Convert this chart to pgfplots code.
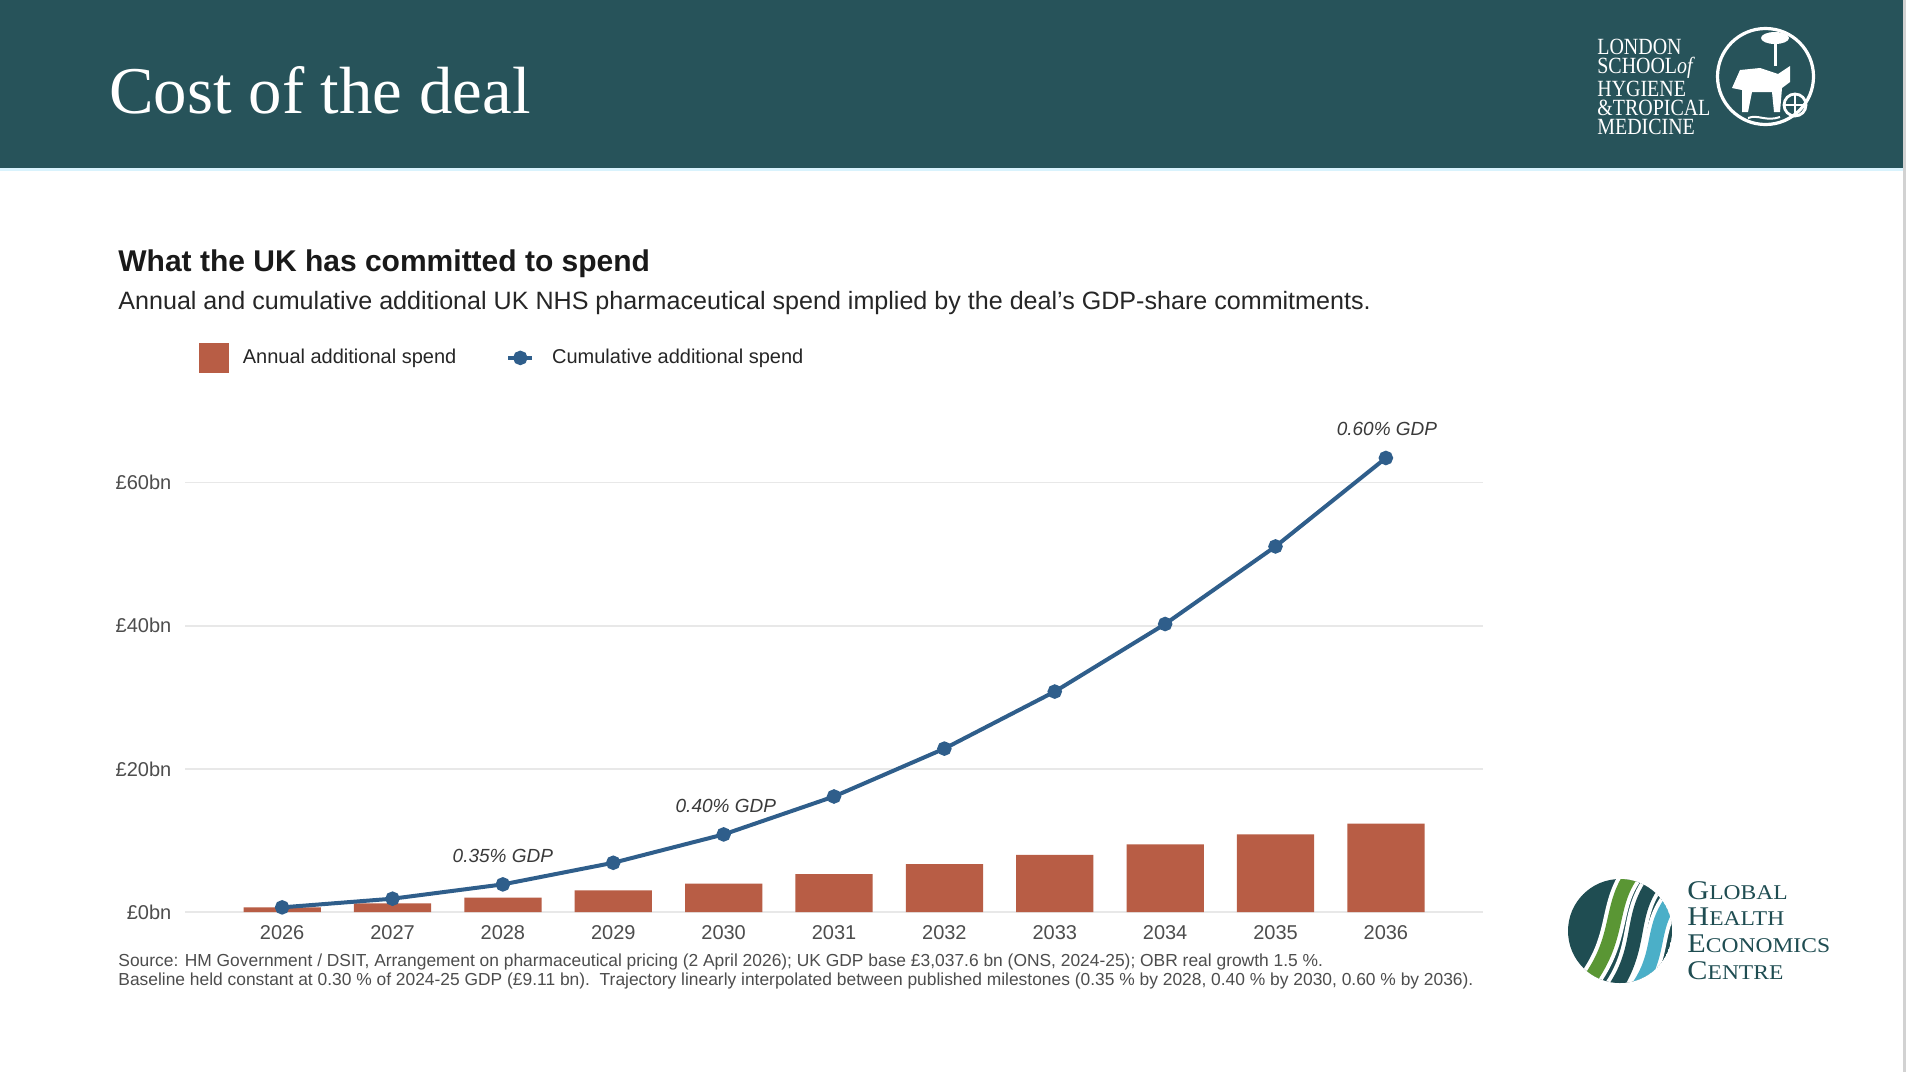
\documentclass[border=0pt]{standalone}
\usepackage{fontspec}
\setmainfont{Liberation Sans}
\newfontfamily\seriffont{Liberation Serif}
\usepackage{pgfplots}
\pgfplotsset{compat=1.18}
\definecolor{hdr}{HTML}{27535A}
\definecolor{barc}{HTML}{B85D45}
\definecolor{linec}{HTML}{2F5E8B}
\definecolor{gridc}{HTML}{E8E8E8}
\definecolor{tickc}{HTML}{4D4D4D}
\definecolor{annc}{HTML}{3A3A3A}
\definecolor{ghec}{HTML}{1F4D52}
\definecolor{ghgreen}{HTML}{5A9634}
\definecolor{ghblue}{HTML}{4BAFC8}
\begin{document}
\begin{tikzpicture}
\useasboundingbox (0,0) rectangle (953pt,-536pt);
\fill[white] (0,0) rectangle (953pt,-536pt);
\begin{scope}[x=0.5pt,y=-0.5pt]
  % header
  \fill[hdr] (0,0) rectangle (1903,168);
  \draw[cyan!15, line width=1.5] (0,169) -- (1903,169);
  \draw[gray!35, line width=1.5] (1904.5,0) -- (1904.5,1072);
  \node[anchor=base west, inner sep=0, text=white, font=\seriffont\fontsize{33.4}{40}\selectfont] at (109,113) {Cost of the deal};
  % LSHTM logo
  \node[anchor=north west, inner sep=0, text=white, xscale=0.86, align=left,
        font=\seriffont\fontsize{11.6}{9.6}\selectfont] at (1597,39)
        {LONDON\\SCHOOL{\itshape of}\\HYGIENE\\\&TROPICAL\\MEDICINE};
  \draw[white, line width=1.6] (1765.5,76.5) circle (48);
  \draw[white, line width=1.4] (1795,105) circle (11);
  \draw[white, line width=1] (1784,105) -- (1806,105) (1795,94) -- (1795,116);
  \fill[white] (1732,88) -- (1740,70) -- (1760,68) -- (1778,74) -- (1790,66) -- (1790,82) -- (1782,88) -- (1780,112) -- (1774,112) -- (1772,92) -- (1752,92) -- (1748,112) -- (1742,112) -- (1742,90) -- cycle;
  \draw[white, line width=1.5] (1775,66) -- (1775,38);
  \fill[white] (1775,38) ellipse (14 and 6);
  \draw[white, line width=1] (1748,118) .. controls (1758,114) and (1766,122) .. (1780,117);
  % chart titles
  \node[anchor=base west, inner sep=0, font=\bfseries\fontsize{15}{18}\selectfont, text=black!90] at (118,271) {What the UK has committed to spend};
  \node[anchor=base west, inner sep=0, font=\fontsize{12.55}{14}\selectfont, text=black!85] at (118,309) {Annual and cumulative additional UK NHS pharmaceutical spend implied by the deal's GDP-share commitments.};
  % source
  \node[anchor=base west, inner sep=0, font=\fontsize{8.7}{10}\selectfont, text=tickc] at (118,966) {Source: HM Government / DSIT, Arrangement on pharmaceutical pricing (2 April 2026); UK GDP base £3,037.6 bn (ONS, 2024-25); OBR real growth 1.5 \%.};
  \node[anchor=base west, inner sep=0, font=\fontsize{8.7}{10}\selectfont, text=tickc] at (118,985) {Baseline held constant at 0.30 \% of 2024-25 GDP (£9.11 bn).\ \ Trajectory linearly interpolated between published milestones (0.35 \% by 2028, 0.40 \% by 2030, 0.60 \% by 2036).};
  % GHEC logo
  \begin{scope}[shift={(1620,931)}]
    \clip (0,0) circle (52);
    \fill[ghec] (0,0) circle (52);
    \draw[white, line width=11pt] (16,-62) .. controls (-14,-26) and (4,6) .. (-36,56);
    \draw[ghgreen, line width=7pt] (16,-62) .. controls (-14,-26) and (4,6) .. (-36,56);
    \draw[white, line width=11pt] (38,-54) .. controls (6,-16) and (26,16) .. (-10,64);
    \draw[ghec, line width=7pt] (38,-54) .. controls (6,-16) and (26,16) .. (-10,64);
    \draw[white, line width=11pt] (58,-38) .. controls (26,-4) and (46,22) .. (12,64);
    \draw[ghblue, line width=7pt] (58,-38) .. controls (26,-4) and (46,22) .. (12,64);
  \end{scope}
  \begin{scope}[every node/.style={anchor=base west, inner sep=0, text=ghec, xscale=1.12, font=\seriffont\fontsize{13.5}{15}\selectfont}]
    \node at (1687,899) {G{\fontsize{10.5}{12}\selectfont LOBAL}};
    \node at (1687,925) {H{\fontsize{10.5}{12}\selectfont EALTH}};
    \node at (1687,952) {E{\fontsize{10.5}{12}\selectfont CONOMICS}};
    \node at (1687,979) {C{\fontsize{10.5}{12}\selectfont ENTRE}};
  \end{scope}
\end{scope}
\begin{axis}[
  at={(92.5pt,-456pt)}, anchor=south west,
  scale only axis, width=649pt, height=250.5pt,
  xmin=-0.88, xmax=10.88, ymin=0, ymax=70,
  axis line style={draw=none}, major tick length=0pt,
  xtick={0,1,2,3,4,5,6,7,8,9,10},
  xticklabels={2026,2027,2028,2029,2030,2031,2032,2033,2034,2035,2036},
  ytick={0,20,40,60}, yticklabels={£0bn,£20bn,£40bn,£60bn},
  ymajorgrids, grid style={gridc, line width=0.9pt},
  tick label style={font=\fontsize{10}{12}\selectfont, text=tickc},
  yticklabel style={xshift=-3.3pt},
  xticklabel style={yshift=-3pt},
  clip=false,
  legend columns=2,
  legend cell align=left,
  legend style={at={(0.0108,1.1060)}, anchor=west, draw=none, fill=none,
    inner sep=0pt, outer sep=0pt,
    font=\fontsize{10}{12}\selectfont, text=black!85,
    /tikz/every odd column/.append style={column sep=4.9pt},
    /tikz/every even column/.append style={column sep=23pt}},
]
\addplot[ybar, bar width=0.7, fill=barc, draw=none,
  legend image code/.code={\fill[barc] (0pt,-7.5pt) rectangle (15pt,7.5pt);}]
  coordinates {(0,0.65) (1,1.21) (2,2.00) (3,3.02) (4,3.96) (5,5.30) (6,6.69) (7,7.97) (8,9.44) (9,10.84) (10,12.36)};
\addlegendentry{Annual additional spend}
\addplot[color=linec, line width=2pt, mark=*, mark size=2.6pt, mark options={fill=linec, draw=linec},
  legend image code/.code={\draw[linec, line width=2pt] (0pt,0pt) -- (12pt,0pt); \fill[linec] (6pt,0pt) circle (2.6pt); \path (14pt,0pt);}]
  coordinates {(0,0.65) (1,1.86) (2,3.86) (3,6.88) (4,10.84) (5,16.14) (6,22.83) (7,30.80) (8,40.24) (9,51.08) (10,63.44)};
\addlegendentry{Cumulative additional spend}
\node[font=\itshape\fontsize{9.5}{11}\selectfont, text=annc] at (axis cs:2,7.82) {0.35\% GDP};
\node[font=\itshape\fontsize{9.5}{11}\selectfont, text=annc] at (axis cs:4.02,14.8) {0.40\% GDP};
\node[font=\itshape\fontsize{9.5}{11}\selectfont, text=annc] at (axis cs:10.01,67.5) {0.60\% GDP};
\end{axis}
\end{tikzpicture}
\end{document}
